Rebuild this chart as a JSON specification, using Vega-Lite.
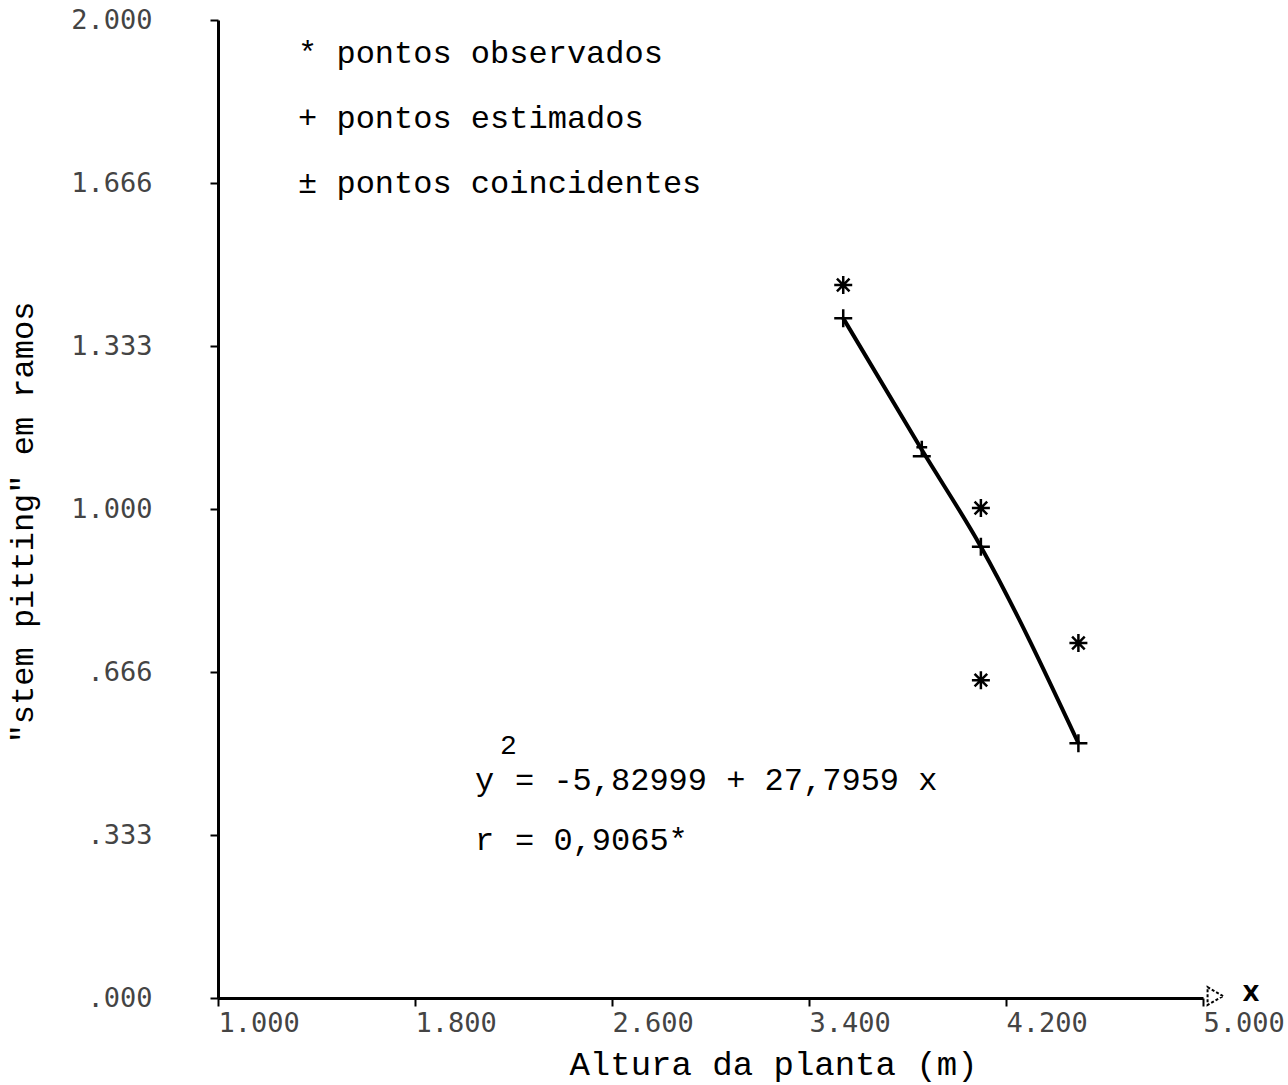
{
  "$schema": "https://vega.github.io/schema/vega-lite/v6.json",
  "width": 985,
  "height": 978,
  "autosize": {"type": "none"},
  "padding": {"left": 218, "top": 20, "right": 85, "bottom": 87},
  "background": "white",
  "config": {"view": {"stroke": null}},
  "datasets": {
    "pontos": [
      {"altura": 3.539, "stem": 1.458, "tipo": "observado"},
      {"altura": 4.098, "stem": 1.002, "tipo": "observado"},
      {"altura": 4.098, "stem": 0.650, "tipo": "observado"},
      {"altura": 4.494, "stem": 0.726, "tipo": "observado"},
      {"altura": 3.539, "stem": 1.390, "tipo": "estimado"},
      {"altura": 3.858, "stem": 1.121, "tipo": "coincidente"},
      {"altura": 4.098, "stem": 0.923, "tipo": "estimado"},
      {"altura": 4.494, "stem": 0.521, "tipo": "estimado"}
    ],
    "um": [{"k": 1}]
  },
  "layer": [
    {"data": {"name": "pontos"},
     "transform": [{"filter": "datum.tipo != 'observado'"}],
     "mark": {"type": "line", "color": "black", "strokeWidth": 4, "interpolate": "monotone"},
     "encoding": {
      "x": {"field": "altura", "type": "quantitative",
        "scale": {"domain": [1, 5], "nice": false, "zero": false},
        "axis": {"title": "Altura da planta (m)", "values": [1, 1.8, 2.6, 3.4, 4.2, 5], "format": ".3f",
          "labelAlign": "left", "labelBaseline": "top", "labelFont": "DejaVu Sans Mono", "labelFontSize": 27, "labelColor": "#444",
          "labelPadding": 4, "labelFlush": false, "labelOverlap": false,
          "tickSize": 8, "tickWidth": 2, "tickColor": "black", "domainColor": "black", "domainWidth": 3, "grid": false,
          "titleFont": "Liberation Mono", "titleFontSize": 34, "titleFontWeight": "normal", "titleColor": "black",
          "titleX": 555, "titleY": 66, "titleAlign": "center", "titleBaseline": "middle"}},
      "y": {"field": "stem", "type": "quantitative",
        "scale": {"domain": [0, 2], "nice": false},
        "axis": {"title": "\"stem pitting\" em ramos", "values": [0, 0.333, 0.666, 1, 1.333, 1.666, 2],
          "labelExpr": "datum.value < 1 ? substring(format(datum.value,'.3f'),1) : format(datum.value,'.3f')",
          "labelAlign": "right", "labelBaseline": "middle", "labelFont": "DejaVu Sans Mono", "labelFontSize": 27, "labelColor": "#444",
          "labelPadding": 58, "labelFlush": false, "labelOverlap": false,
          "tickSize": 8, "tickWidth": 2, "tickColor": "black", "domainColor": "black", "domainWidth": 3, "grid": false,
          "titleFont": "Liberation Mono", "titleFontSize": 32, "titleFontWeight": "normal", "titleColor": "black",
          "titleAngle": 270, "titleX": -196, "titleY": 502, "titleAlign": "center", "titleBaseline": "middle"}}
     }},
    {"data": {"name": "pontos"},
     "mark": {"type": "point", "filled": false, "color": "black", "strokeWidth": 2.5, "opacity": 1, "size": 324},
     "encoding": {
      "x": {"field": "altura", "type": "quantitative"},
      "y": {"field": "stem", "type": "quantitative"},
      "shape": {"field": "tipo", "type": "nominal", "legend": null,
       "scale": {"domain": ["observado", "estimado", "coincidente"],
         "range": ["M0,-1L0,1M-1,0L1,0M-0.7,-0.7L0.7,0.7M-0.7,0.7L0.7,-0.7",
                   "M-1,0L1,0M0,-1L0,1",
                   "M0,-1L0,0.7M-0.6,-0.3L0.6,-0.3M-1,0.7L1,0.7"]}}}},
    {"data": {"name": "um"},
     "mark": {"type": "text", "text": "* pontos observados", "align": "left", "baseline": "middle", "font": "Liberation Mono", "fontSize": 32, "color": "black"},
     "encoding": {"x": {"datum": 1.325, "type": "quantitative"}, "y": {"datum": 1.933, "type": "quantitative"}}},
    {"data": {"name": "um"},
     "mark": {"type": "text", "text": "+ pontos estimados", "align": "left", "baseline": "middle", "font": "Liberation Mono", "fontSize": 32, "color": "black"},
     "encoding": {"x": {"datum": 1.325, "type": "quantitative"}, "y": {"datum": 1.8, "type": "quantitative"}}},
    {"data": {"name": "um"},
     "mark": {"type": "text", "text": "± pontos coincidentes", "align": "left", "baseline": "middle", "font": "Liberation Mono", "fontSize": 32, "color": "black"},
     "encoding": {"x": {"datum": 1.325, "type": "quantitative"}, "y": {"datum": 1.667, "type": "quantitative"}}},
    {"data": {"name": "um"},
     "mark": {"type": "text", "text": "y", "align": "left", "baseline": "middle", "font": "Liberation Mono", "fontSize": 32, "color": "black"},
     "encoding": {"x": {"datum": 2.044, "type": "quantitative"}, "y": {"datum": 0.446, "type": "quantitative"}}},
    {"data": {"name": "um"},
     "mark": {"type": "text", "text": "2", "align": "left", "baseline": "middle", "font": "Liberation Mono", "fontSize": 28, "color": "black"},
     "encoding": {"x": {"datum": 2.145, "type": "quantitative"}, "y": {"datum": 0.515, "type": "quantitative"}}},
    {"data": {"name": "um"},
     "mark": {"type": "text", "text": "= -5,82999 + 27,7959 x", "align": "left", "baseline": "middle", "font": "Liberation Mono", "fontSize": 32, "color": "black"},
     "encoding": {"x": {"datum": 2.206, "type": "quantitative"}, "y": {"datum": 0.446, "type": "quantitative"}}},
    {"data": {"name": "um"},
     "mark": {"type": "text", "text": "r", "align": "left", "baseline": "middle", "font": "Liberation Mono", "fontSize": 32, "color": "black"},
     "encoding": {"x": {"datum": 2.044, "type": "quantitative"}, "y": {"datum": 0.323, "type": "quantitative"}}},
    {"data": {"name": "um"},
     "mark": {"type": "text", "text": "= 0,9065*", "align": "left", "baseline": "middle", "font": "Liberation Mono", "fontSize": 32, "color": "black"},
     "encoding": {"x": {"datum": 2.206, "type": "quantitative"}, "y": {"datum": 0.323, "type": "quantitative"}}},
    {"data": {"name": "um"},
     "mark": {"type": "point", "shape": "triangle-right", "filled": false, "color": "black", "strokeWidth": 2, "strokeDash": [3, 2], "size": 320, "opacity": 1},
     "encoding": {"x": {"datum": 5.05, "type": "quantitative"}, "y": {"datum": 0.004, "type": "quantitative"}}},
    {"data": {"name": "um"},
     "mark": {"type": "text", "text": "X", "align": "center", "baseline": "middle", "font": "DejaVu Sans", "fontSize": 22, "fontWeight": "bold", "color": "black"},
     "encoding": {"x": {"datum": 5.195, "type": "quantitative"}, "y": {"datum": 0.008, "type": "quantitative"}}}
  ]
}
